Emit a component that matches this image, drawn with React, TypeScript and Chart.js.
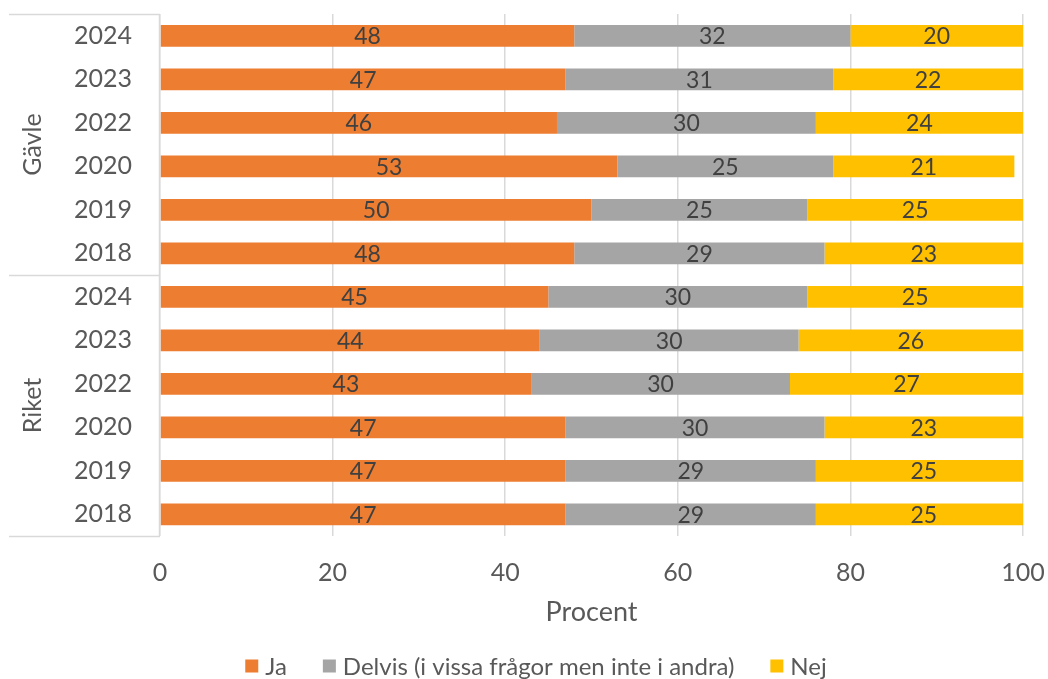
import React, { useEffect, useRef } from "react";
import { Chart, registerables } from "chart.js";

Chart.register(...registerables);

// Row labels (top to bottom) and the two region groups
const years = ["2024", "2023", "2022", "2020", "2019", "2018", "2024", "2023", "2022", "2020", "2019", "2018"];
const groups = ["Gävle", "Riket"];
const groupSize = 6;

// Shares in percent for each answer
const ja = [48, 47, 46, 53, 50, 48, 45, 44, 43, 47, 47, 47];
const delvis = [32, 31, 30, 25, 25, 29, 30, 30, 30, 30, 29, 29];
const nej = [20, 22, 24, 21, 25, 23, 25, 26, 27, 23, 25, 25];

const seriesNames = ["Ja", "Delvis (i vissa frågor men inte i andra)", "Nej"];
const seriesColors = ["#ED7D31", "#A5A5A5", "#FFC000"];

const FONT = "Lato, 'Open Sans', sans-serif";
const TEXT = "#595959";
const LINE = "#D9D9D9";

// Value printed in the middle of every bar segment
const valueLabels = {
  id: "valueLabels",
  afterDatasetsDraw(chart: any) {
    const ctx = chart.ctx;
    ctx.save();
    ctx.font = `23px ${FONT}`;
    ctx.fillStyle = "#404040";
    ctx.textAlign = "center";
    ctx.textBaseline = "middle";
    chart.data.datasets.forEach((ds: any, di: number) => {
      const meta = chart.getDatasetMeta(di);
      meta.data.forEach((bar: any, i: number) => {
        const { x, y, base } = bar.getProps(["x", "y", "base"], true);
        ctx.fillText(String(ds.data[i]), (x + base) / 2, y + 1);
      });
    });
    ctx.restore();
  },
};

// Second level of the category axis: group boxes with rotated names
const groupAxis = {
  id: "groupAxis",
  afterDraw(chart: any) {
    const ctx = chart.ctx;
    const area = chart.chartArea;
    const yScale = chart.scales.y;
    const left = 9;
    const bounds = [area.top];
    for (let g = 1; g < groups.length; g++) {
      const a = yScale.getPixelForValue(g * groupSize - 1);
      const b = yScale.getPixelForValue(g * groupSize);
      bounds.push((a + b) / 2);
    }
    bounds.push(area.bottom);
    ctx.save();
    ctx.strokeStyle = LINE;
    ctx.lineWidth = 1.5;
    bounds.forEach((yy) => {
      ctx.beginPath();
      ctx.moveTo(left, Math.round(yy) + 0.5);
      ctx.lineTo(area.left, Math.round(yy) + 0.5);
      ctx.stroke();
    });
    ctx.beginPath();
    ctx.moveTo(Math.round(area.left) - 0.5, area.top);
    ctx.lineTo(Math.round(area.left) - 0.5, area.bottom);
    ctx.stroke();
    ctx.font = `25px ${FONT}`;
    ctx.fillStyle = TEXT;
    ctx.textAlign = "center";
    ctx.textBaseline = "middle";
    groups.forEach((name, g) => {
      const cy = (bounds[g] + bounds[g + 1]) / 2;
      ctx.save();
      ctx.translate(33, cy);
      ctx.rotate(-Math.PI / 2);
      ctx.fillText(name, 0, 0);
      ctx.restore();
    });
    ctx.restore();
  },
};

// Legend row under the axis title
const bottomLegend = {
  id: "bottomLegend",
  afterDraw(chart: any) {
    const ctx = chart.ctx;
    const box = 13;
    const gapText = 7;
    const gapItem = 36;
    ctx.save();
    ctx.font = `24px ${FONT}`;
    ctx.textBaseline = "middle";
    ctx.textAlign = "left";
    const widths = seriesNames.map((n) => ctx.measureText(n).width);
    const total = widths.reduce((s, w) => s + box + gapText + w, 0) + gapItem * (seriesNames.length - 1);
    let x = chart.width / 2 + 12 - total / 2;
    const cy = chart.height - 13;
    seriesNames.forEach((name, i) => {
      ctx.fillStyle = seriesColors[i];
      ctx.fillRect(x, cy - box / 2, box, box);
      x += box + gapText;
      ctx.fillStyle = TEXT;
      ctx.fillText(name, x, cy + 1);
      x += widths[i] + gapItem;
    });
    ctx.restore();
  },
};

export default function App() {
  const canvasRef = useRef<HTMLCanvasElement | null>(null);

  useEffect(() => {
    if (!canvasRef.current) return;
    const chart = new Chart(canvasRef.current, {
      type: "bar",
      data: {
        labels: years,
        datasets: [ja, delvis, nej].map((values, i) => ({
          label: seriesNames[i],
          data: values,
          backgroundColor: seriesColors[i],
          borderWidth: 0,
          barPercentage: 0.5,
          categoryPercentage: 1,
        })),
      },
      options: {
        indexAxis: "y",
        animation: false,
        responsive: true,
        maintainAspectRatio: false,
        layout: { padding: { top: 14, right: 25, left: 0, bottom: 51 } },
        scales: {
          x: {
            stacked: true,
            min: 0,
            max: 100,
            ticks: { stepSize: 20, color: TEXT, font: { family: FONT, size: 25 }, padding: 22 },
            grid: { color: LINE, lineWidth: 1.5, drawTicks: false },
            border: { display: false },
            title: {
              display: true,
              text: "Procent",
              color: TEXT,
              font: { family: FONT, size: 27 },
              padding: { top: 0, bottom: 0 },
            },
            afterFit(scale: any) {
              scale.height = 92;
              scale.paddingLeft = 0;
              scale.paddingRight = 0;
            },
          },
          y: {
            stacked: true,
            grid: { display: false, drawTicks: false },
            border: { display: false },
            ticks: { color: TEXT, font: { family: FONT, size: 25 }, padding: 28 },
            afterFit(scale: any) {
              scale.width = 160;
              scale.paddingTop = 0;
              scale.paddingBottom = 0;
            },
          },
        },
        plugins: {
          legend: { display: false },
          tooltip: { enabled: false },
        },
      },
      plugins: [valueLabels, groupAxis, bottomLegend],
    });
    return () => chart.destroy();
  }, []);

  return (
    <div style={{ position: "absolute", left: 0, top: 0, width: 1048, height: 679, background: "#fff" }}>
      <canvas ref={canvasRef} />
    </div>
  );
}
